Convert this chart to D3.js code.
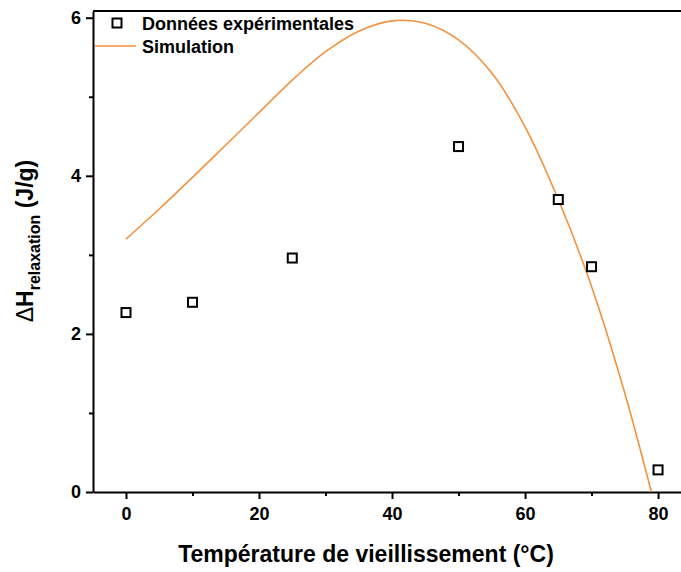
<!DOCTYPE html>
<html>
<head>
<meta charset="utf-8">
<script src="https://cdn.jsdelivr.net/npm/d3@7"></script>
<style>
  body { margin: 0; background: #fff; }
  text { font-family: "Liberation Sans", Arial, sans-serif; font-weight: bold; fill: #000; }
</style>
</head>
<body>
<div class="chart_area"></div>
<script>
// experimental points
var exp_temp = [0, 10, 25, 50, 65, 70, 80];
var exp_dh   = [2.27, 2.40, 2.96, 4.37, 3.70, 2.85, 0.28];

// simulation curve
var sim_temp = [0, 5, 10, 15, 20, 25, 30, 35, 40, 45, 50, 55, 60, 65, 70, 75, 79];
var sim_dh   = [3.20, 3.58, 3.98, 4.39, 4.80, 5.21, 5.57, 5.83, 5.96, 5.93, 5.72, 5.30, 4.62, 3.70, 2.60, 1.25, 0];

var x_ticks = [0, 20, 40, 60, 80];
var y_ticks = [0, 2, 4, 6];

var width_chart = 681, height_chart = 572;
var margin_chart = { top: 11, right: 0, bottom: 80, left: 93 };
var plot_w = width_chart - margin_chart.left - margin_chart.right,
    plot_h = height_chart - margin_chart.top - margin_chart.bottom;

var svg_chart = d3.select(".chart_area")
    .append("svg")
    .attr("width", width_chart)
    .attr("height", height_chart);

var g = svg_chart.append("g")
    .attr("transform", "translate(" + margin_chart.left + "," + margin_chart.top + ")");

var x = d3.scaleLinear().domain([-4.96, 83.45]).range([0, plot_w]);
var y = d3.scaleLinear().domain([0, 6.085]).range([plot_h, 0]);

// x axis
g.append("g")
    .attr("transform", "translate(0," + plot_h + ")")
    .call(d3.axisBottom(x).tickValues(x_ticks).tickSize(7).tickPadding(8).tickSizeOuter(0).tickFormat(d3.format("d")));
g.append("g")
    .attr("transform", "translate(0," + plot_h + ")")
    .call(d3.axisBottom(x).tickValues([10, 30, 50, 70]).tickSize(4).tickFormat("").tickSizeOuter(0))
    .select(".domain").remove();

// y axis
g.append("g")
    .call(d3.axisLeft(y).tickValues(y_ticks).tickSize(7).tickPadding(5).tickSizeOuter(0).tickFormat(d3.format("d")));
g.append("g")
    .call(d3.axisLeft(y).tickValues([1, 3, 5]).tickSize(4).tickFormat("").tickSizeOuter(0))
    .select(".domain").remove();

svg_chart.selectAll(".domain").attr("stroke-width", 2);
svg_chart.selectAll(".tick line").attr("stroke-width", 2);
svg_chart.selectAll(".tick text").style("font-size", "18px").style("font-weight", "bold")
    .attr("font-family", "Liberation Sans, Arial, sans-serif");

// top frame line
g.append("line")
    .attr("x1", 0).attr("x2", plot_w)
    .attr("y1", 0).attr("y2", 0)
    .attr("stroke", "#000").attr("stroke-width", 2);

// simulation line
var line = d3.line()
    .x(function(d, i){ return x(sim_temp[i]); })
    .y(function(d){ return y(d); })
    .curve(d3.curveCatmullRom.alpha(0.5));

g.append("path")
    .datum(sim_dh)
    .attr("fill", "none")
    .attr("stroke", "#f5913e")
    .attr("stroke-width", 1.6)
    .attr("d", line);

// experimental squares
var sq = 9;
g.append("g")
    .selectAll("rect")
    .data(exp_dh)
    .enter()
    .append("rect")
    .attr("x", function(d, i){ return x(exp_temp[i]) - sq / 2; })
    .attr("y", function(d){ return y(d) - sq / 2; })
    .attr("width", sq).attr("height", sq)
    .attr("fill", "#fff")
    .attr("stroke", "#000")
    .attr("stroke-width", 2);

// legend
svg_chart.append("rect")
    .attr("x", 112.5).attr("y", 18.5).attr("width", sq).attr("height", sq)
    .attr("fill", "#fff").attr("stroke", "#000").attr("stroke-width", 2);
svg_chart.append("text")
    .attr("x", 142).attr("y", 29.5)
    .style("font-size", "18px")
    .text("Données expérimentales");
svg_chart.append("line")
    .attr("x1", 95).attr("x2", 136).attr("y1", 46).attr("y2", 46)
    .attr("stroke", "#f5913e").attr("stroke-width", 1.6);
svg_chart.append("text")
    .attr("x", 142).attr("y", 52.5)
    .style("font-size", "18px")
    .text("Simulation");

// axis titles
svg_chart.append("text")
    .attr("x", 366).attr("y", 562)
    .attr("text-anchor", "middle")
    .style("font-size", "23px")
    .text("Température de vieillissement (°C)");

var yt = svg_chart.append("text")
    .attr("transform", "translate(33,241) rotate(-90)")
    .attr("text-anchor", "middle")
    .style("font-size", "23px");
yt.append("tspan").style("font-weight", "normal").text("Δ");
yt.append("tspan").text("H");
yt.append("tspan").attr("dy", 7).style("font-size", "16px").text("relaxation");
yt.append("tspan").attr("dy", -7).text(" (J/g)");
</script>
</body>
</html>
